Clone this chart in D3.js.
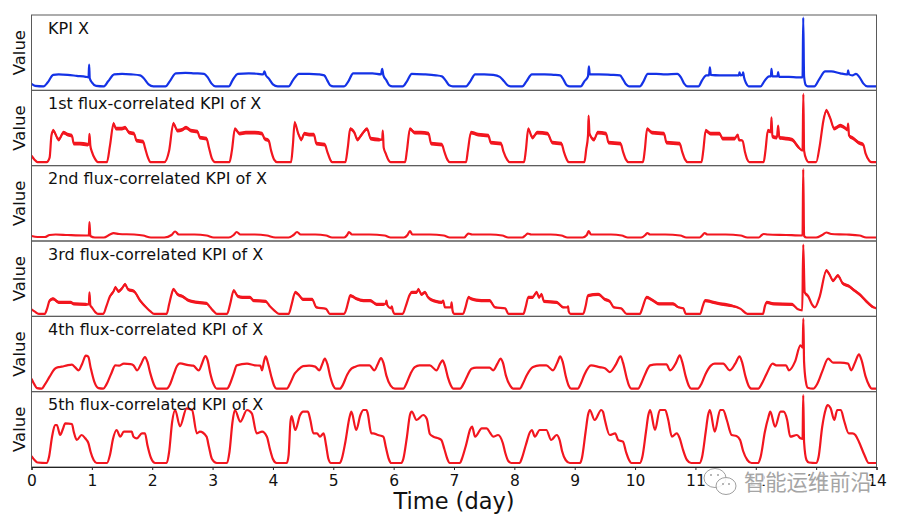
<!DOCTYPE html>
<html><head><meta charset="utf-8">
<script src="https://cdn.jsdelivr.net/npm/d3@7"></script>
<style>html,body{margin:0;padding:0;background:#fff;overflow:hidden}</style>
</head><body>
<svg id="chart" width="904" height="522"></svg>
<script>
// ---------- data ----------
const dayTicks = [0,1,2,3,4,5,6,7,8,9,10,11,12,13,14];
const panelTitles = ["KPI X","1st flux-correlated KPI of X","2nd flux-correlated KPI of X",
  "3rd flux-correlated KPI of X","4th flux-correlated KPI of X","5th flux-correlated KPI of X"];
const yLabel = "Value";
const xLabel = "Time (day)";
const watermarkText = "智能运维前沿";

// [time(day), value]
const kpiX = [
[0,6.5],[0.06,4.5],[0.2,4],[0.27,8],[0.36,15.5],[0.45,16],[0.6,15.5],[0.75,14.5],[0.9,13.5],[0.945,13],[0.955,25.7],[0.965,12],[1.0,8],[1.07,4.5],[1.2,4],[1.27,9],[1.37,16],[1.5,16.5],[1.65,16],[1.8,15],[1.86,12],[1.94,6],[2.02,4],
[2.22,4],[2.29,9],[2.39,17],[2.55,17.5],[2.7,17],[2.86,16.5],[2.92,13],[2.98,7],[3.05,4],
[3.27,4],[3.33,10],[3.42,16.5],[3.6,17],[3.75,16.5],[3.84,16],[3.86,19],[3.88,15.5],[3.93,12],[4.0,6],[4.08,4],
[4.26,4],[4.33,10],[4.43,16.5],[4.6,16.5],[4.75,16],[4.85,15],[4.9,10],[4.95,5],[5.0,4],
[5.18,4],[5.25,9],[5.33,17],[5.5,17],[5.65,17],[5.79,16],[5.81,21.5],[5.83,15],[5.88,10],[5.93,5],[5.98,4],
[6.15,4],[6.22,9],[6.3,16.5],[6.5,16],[6.7,15],[6.8,14],[6.86,10],[6.92,5],[6.98,4],
[7.2,4],[7.27,9],[7.35,16],[7.5,16],[7.65,15.5],[7.76,13.5],[7.83,9],[7.89,5],[7.94,4],
[8.13,4],[8.2,9],[8.29,16],[8.5,16],[8.65,15.5],[8.76,15],[8.82,10],[8.87,5],[8.92,4],
[9.1,4],[9.16,9],[9.22,14],[9.235,24],[9.25,16],[9.4,16],[9.6,15.5],[9.75,15],[9.8,11],[9.85,6],[9.9,4],
[10.08,4],[10.14,9],[10.21,16.5],[10.35,16.5],[10.5,16],[10.7,16.5],[10.76,13],[10.81,7],[10.87,4],
[11.05,4],[11.11,10],[11.18,15],[11.225,15],[11.24,23],[11.255,15.5],[11.4,15],[11.6,15],[11.72,15],[11.73,18],[11.745,15],[11.78,15.5],[11.79,18],[11.805,13],[11.84,7],[11.88,4],
[12.08,4],[12.14,9],[12.22,14],[12.25,14],[12.26,21.5],[12.275,14],[12.36,14],[12.37,18.3],[12.385,13.5],[12.55,13.5],[12.7,13],[12.775,13],[12.786,72.7],[12.8,14],[12.83,5],[12.86,4],
[12.97,4],[13.05,11],[13.15,19],[13.25,19],[13.4,17],[13.5,16],[13.52,16],[13.53,20],[13.545,16],[13.6,15],[13.66,16.5],[13.72,13],[13.78,7],[13.85,4],[14,4]
];

// [time, value, spread]
const flux1 = [
[0,10],[0.05,6],[0.1,3.5],[0.25,3.5],[0.3,8],[0.33,30,1.8],[0.36,35,1.8],[0.45,26,1.8],[0.53,33,1.8],[0.6,31,1.8],[0.67,30,1.8],[0.7,22,1.8],[0.8,22,1.8],[0.93,21,1.8],[0.95,21],[0.96,31.7],[0.975,20],[1.0,14],[1.05,7],[1.1,3.5],[1.25,3.5],
[1.3,20,1],[1.36,42,1.8],[1.4,37,1.8],[1.5,37,1.8],[1.55,38,1.8],[1.62,33,1.8],[1.7,32,1.8],[1.74,25,1.8],[1.85,24,1.8],[1.88,18],[1.93,8],[1.97,3.5],[2.2,3.5],
[2.28,15],[2.35,42,1.8],[2.42,35,1.8],[2.5,36,1.8],[2.56,38,1.8],[2.64,35,1.8],[2.75,34,1.8],[2.79,28,1.8],[2.9,27,1.8],[2.94,18],[2.99,7],[3.04,3.5],[3.28,3.5],
[3.32,15],[3.37,36.7,1.8],[3.45,32,1.8],[3.55,33,1.8],[3.7,33,1.8],[3.82,32,1.8],[3.86,27,1.8],[3.93,25,1.8],[3.97,15],[4.02,6],[4.07,3.5],[4.3,3.5],
[4.33,20],[4.36,43,1.8],[4.42,32,1.8],[4.47,26,1.8],[4.52,32,1.8],[4.6,31,1.8],[4.68,31,1.8],[4.72,22,1.8],[4.86,21,1.8],[4.9,14],[4.95,6],[4.98,3.5],[5.2,3.5],
[5.24,18],[5.28,36.7,1.8],[5.35,33,1.8],[5.4,26,1.8],[5.47,31,1.8],[5.56,36.7,1.8],[5.62,27,1.8],[5.75,26,1.8],[5.81,26],[5.82,35],[5.835,18],[5.87,12],[5.92,5],[5.95,3.5],[6.19,3.5],
[6.22,15],[6.27,36.7,1.8],[6.35,33,1.8],[6.45,33,1.8],[6.58,32,1.8],[6.62,22,1.8],[6.8,21,1.8],[6.84,14],[6.89,6],[6.93,3.5],[7.2,3.5],
[7.23,15],[7.28,33,1.8],[7.4,31,1.8],[7.57,30,1.8],[7.61,23,1.8],[7.78,22,1.8],[7.82,14],[7.88,6],[7.92,3.5],[8.16,3.5],
[8.19,15],[8.23,36.7,1.8],[8.3,28,1.8],[8.38,33,1.8],[8.55,32,1.8],[8.63,23,1.8],[8.78,22,1.8],[8.82,14],[8.87,6],[8.9,3.5],[9.16,3.5],
[9.19,16],[9.22,30,1.8],[9.23,50],[9.245,32,1.8],[9.32,26,1.8],[9.38,33,1.8],[9.52,32,1.8],[9.56,23,1.8],[9.76,22,1.8],[9.8,14],[9.85,6],[9.89,3.5],[10.13,3.5],
[10.16,15],[10.2,36.7,1.8],[10.28,33,1.8],[10.48,32,1.8],[10.52,23,1.8],[10.74,22,1.8],[10.78,14],[10.83,6],[10.87,3.5],[11.1,3.5],
[11.13,15],[11.17,35,1.8],[11.25,32,1.8],[11.4,32,1.8],[11.45,27,1.8],[11.65,27,1.8],[11.7,31],[11.72,26,1.8],[11.78,25],[11.82,14],[11.86,6],[11.89,3.5],[12.13,3.5],
[12.16,15],[12.2,35,1.8],[12.25,34,1.8],[12.26,48.3],[12.275,29,1.8],[12.35,28,1.8],[12.37,40],[12.39,28,1.8],[12.5,27,1.8],[12.6,26,1.8],[12.7,19,1.8],[12.775,15],[12.788,71.7],[12.8,15],[12.84,6],[12.87,3.5],[13.0,3.5],
[13.06,20],[13.12,45,1.8],[13.17,55,1.8],[13.23,48,1.8],[13.3,37,1.8],[13.4,40,1.8],[13.47,38,1.8],[13.52,36,1.8],[13.53,42],[13.545,30,1.8],[13.62,27,1.8],[13.7,23,1.8],[13.78,21,1.8],[13.82,12],[13.88,5],[13.92,3.5],[14,3.5]
];

const flux2 = [
[0,5],[0.1,4],[0.22,4],[0.3,6],[0.4,6.5],[0.6,6],[0.9,5.5],[0.95,5.5],[0.96,18.8],[0.975,5],[1.05,3.5],[1.2,3.5],
[1.3,6.5],[1.36,7.8],[1.45,7],[1.7,6.5],[1.85,5.5],[1.98,3.5],[2.2,3.5],
[2.32,6],[2.38,9.5],[2.44,6.5],[2.7,6.5],[2.9,5.5],[3.02,3.5],[3.27,3.5],
[3.35,6],[3.4,9],[3.46,6.5],[3.7,6.5],[3.9,5.5],[4.04,3.5],[4.26,3.5],
[4.34,6],[4.4,9],[4.46,6.5],[4.7,6.5],[4.88,5.5],[4.98,3.5],[5.18,3.5],
[5.23,6],[5.26,9],[5.31,6.5],[5.6,6.5],[5.85,5.5],[5.95,3.5],[6.17,3.5],
[6.23,6],[6.27,10],[6.31,6.5],[6.6,6.5],[6.83,5.5],[6.93,3.5],[7.17,3.5],
[7.21,6],[7.24,7.5],[7.3,6.5],[7.6,6.5],[7.8,5.5],[7.9,3.5],[8.13,3.5],
[8.19,6],[8.22,7.5],[8.28,6.5],[8.6,6.5],[8.78,5.5],[8.88,3.5],[9.13,3.5],
[9.2,6],[9.23,10],[9.27,6.5],[9.6,6.5],[9.78,5.5],[9.88,3.5],[10.1,3.5],
[10.17,6],[10.2,8],[10.25,6.5],[10.5,6.5],[10.75,5.5],[10.85,3.5],[11.07,3.5],
[11.12,6],[11.15,8],[11.2,6.5],[11.5,6.5],[11.75,5.5],[11.86,3.5],[12.05,3.5],
[12.1,6],[12.13,7],[12.2,6.5],[12.5,6],[12.775,5.5],[12.786,72],[12.8,5],[12.84,3.5],[13.0,3.5],
[13.1,6],[13.17,8.5],[13.25,7],[13.5,6.5],[13.72,5.5],[13.83,3.5],[14,3.5]
];

const flux3 = [
[0,7],[0.05,5],[0.12,2.5],[0.22,2.5],[0.26,8],[0.3,15.7,1.6],[0.36,17.4,1.6],[0.45,14,1.6],[0.65,14,1.6],[0.7,12.4,1.6],[0.9,12,1.6],[0.95,12],[0.96,24],[0.975,11],[1.0,9],[1.06,4],[1.1,2.5],[1.19,2.5],
[1.24,10],[1.3,20,1.6],[1.36,25,1.6],[1.39,29,1.6],[1.44,25,1.6],[1.5,28,1.6],[1.55,32,1.6],[1.6,27,1.6],[1.7,25,1.6],[1.8,15.7,1.6],[1.9,9,1],[1.97,5],[2.03,2.5],[2.24,2.5],
[2.28,12],[2.32,22,1.6],[2.35,27,1.6],[2.42,22,1.6],[2.5,20,1.6],[2.6,16,1.6],[2.75,14,1.6],[2.9,13,1.6],[2.96,9],[3.02,5],[3.07,2.5],[3.24,2.5],
[3.29,12],[3.35,25.7,1.6],[3.42,20,1.6],[3.5,19,1.6],[3.62,19,1.6],[3.68,15.7,1.6],[3.88,15,1.6],[3.95,10],[4.02,6],[4.1,2.5],[4.26,2.5],
[4.31,12],[4.37,24,1.6],[4.42,22,1.6],[4.5,17,1.6],[4.65,17,1.6],[4.72,9,1],[4.88,7.5],[4.94,2.5],[5.18,2.5],
[5.22,8],[5.25,15],[5.28,20.7,1.6],[5.39,17.4,1.6],[5.5,15.7,1.6],[5.61,15.7,1.6],[5.72,12,1.6],[5.83,12,1.6],[5.87,13],[5.88,15.7],[5.895,11],[5.95,8],[5.97,10],[5.985,6],[6.02,2.5],[6.15,2.5],
[6.2,10],[6.27,22,1.6],[6.3,24,1.6],[6.38,24,1.6],[6.41,27,1.6],[6.46,22,1.6],[6.52,24,1.6],[6.57,19,1.6],[6.7,15,1.6],[6.8,14,1.6],[6.82,15.7],[6.85,9],[6.95,9],[6.96,14],[6.975,6],[7.0,2.5],[7.15,2.5],
[7.19,9],[7.24,19,1.6],[7.29,17.4,1.6],[7.45,15.7,1.6],[7.59,15.7,1.6],[7.68,9,1],[7.85,8],[7.9,2.5],[8.15,2.5],
[8.19,10],[8.23,19,1.6],[8.3,19,1.6],[8.37,24,1.6],[8.41,19,1.6],[8.45,22,1.6],[8.49,15,1.6],[8.7,14,1.6],[8.81,9,1],[8.88,9],[8.89,10],[8.9,5],[8.93,2.5],[9.14,2.5],
[9.18,10],[9.22,20.7,1.6],[9.39,22,1.6],[9.5,17,1.6],[9.58,15,1.6],[9.65,9,1],[9.77,8],[9.86,2.5],[10.08,2.5],
[10.13,10],[10.19,19,1.6],[10.3,15.7,1.6],[10.4,12.4,1.6],[10.63,12.4,1.6],[10.72,9,1],[10.8,8],[10.84,2.5],[11.08,2.5],
[11.12,10],[11.16,15.7,1.6],[11.3,14,1.6],[11.41,12.4,1.6],[11.57,11,1.6],[11.75,7.5],[11.86,2.5],[12.12,2.5],
[12.15,10],[12.18,14,1.6],[12.3,12.4,1.6],[12.6,12,1.6],[12.7,7],[12.77,6],[12.786,71.7],[12.81,24,1.6],[12.87,20,1.6],[12.93,12],[12.98,9],[13.06,20,1.6],[13.17,45.7,1.6],[13.22,42,1.6],[13.28,35.7,1.6],[13.36,40.7,1.6],[13.44,33,1.6],[13.55,30,1.6],[13.61,27,1.6],[13.72,22,1.6],[13.85,14,1.6],[13.95,9,1],[14,8]
];

const flux4 = [
[0,13],[0.05,7],[0.09,3.5],[0.17,3],[0.22,7],[0.3,15],[0.39,23],[0.45,24.6],[0.5,25],[0.59,26.3],[0.67,27],[0.72,24.6],[0.78,21.3],[0.84,28],[0.9,36],[0.94,35],[0.98,24],[1.04,10],[1.11,3.5],[1.19,3],
[1.24,7],[1.32,18],[1.39,26.3],[1.45,26],[1.53,28],[1.64,27.5],[1.69,26.3],[1.75,21.3],[1.81,27],[1.88,34.6],[1.92,30],[1.97,18],[2.03,7],[2.08,3],[2.24,3],
[2.3,8],[2.36,18],[2.41,25.6],[2.46,28.3],[2.6,26.5],[2.68,26],[2.77,21.3],[2.83,29],[2.88,35.6],[2.92,31],[2.96,19],[3.02,7],[3.07,3],[3.24,3],
[3.29,8],[3.35,18],[3.4,26.3],[3.57,28],[3.7,26.3],[3.79,26],[3.82,21.3],[3.85,30],[3.88,35.3],[3.92,28],[3.97,16],[4.02,6],[4.06,3],[4.23,3],
[4.29,9],[4.36,18],[4.42,22],[4.5,25.5],[4.6,26],[4.7,25],[4.77,21.3],[4.82,28],[4.86,33],[4.9,28],[4.95,15],[5.0,6],[5.04,3],[5.11,3],
[5.16,7],[5.23,17],[5.3,23],[5.35,24.6],[5.44,26.3],[5.6,26.3],[5.68,21.3],[5.74,28],[5.79,33.6],[5.83,29],[5.88,16],[5.95,6],[6.02,3],[6.16,3],
[6.21,8],[6.28,18],[6.35,24.6],[6.43,26.3],[6.6,26.3],[6.71,21.3],[6.77,28],[6.81,31.3],[6.85,26],[6.9,14],[6.95,6],[6.99,3],[7.1,3],
[7.16,8],[7.23,17],[7.29,23],[7.37,24],[7.59,24],[7.65,21.3],[7.72,28],[7.77,33],[7.81,29],[7.86,16],[7.93,6],[7.98,3],[8.09,3],
[8.14,8],[8.21,17],[8.31,24.6],[8.42,26.3],[8.53,26.3],[8.64,21.3],[8.71,29],[8.76,35.3],[8.8,30],[8.85,16],[8.9,6],[8.94,3],[9.05,3],
[9.1,8],[9.16,17],[9.27,26.3],[9.41,24.6],[9.5,23.5],[9.58,19.6],[9.68,27],[9.76,35.3],[9.8,29],[9.86,14],[9.9,6],[9.94,3],[10.05,3],
[10.1,8],[10.17,18],[10.25,26.3],[10.36,27.3],[10.52,27.3],[10.58,21.3],[10.68,29],[10.74,36.3],[10.78,30],[10.84,15],[10.89,6],[10.93,3],[11.04,3],
[11.1,8],[11.17,18],[11.26,26.3],[11.32,28],[11.46,28],[11.57,21.3],[11.66,28],[11.73,35.3],[11.77,30],[11.83,15],[11.88,6],[11.93,3],[12.04,3],
[12.1,8],[12.18,18],[12.28,28],[12.34,26.3],[12.5,26.3],[12.55,21.3],[12.65,30],[12.74,46.3],[12.777,44],[12.788,73],[12.8,30],[12.83,10],[12.86,4],[12.95,3],
[13.02,8],[13.1,20],[13.2,33],[13.28,29],[13.4,29],[13.53,28],[13.58,21.3],[13.65,30],[13.71,37.3],[13.75,32],[13.82,15],[13.88,6],[13.92,3],[14,3]
];

const flux5 = [
[0,11],[0.05,7],[0.1,4.5],[0.25,4],[0.29,10],[0.34,30],[0.39,42],[0.42,42],[0.475,32],[0.52,38],[0.56,43.7],[0.67,43],[0.7,35.3],[0.75,27],[0.83,32],[0.89,28.7],[0.944,23.7],[0.98,15],[1.03,7],[1.08,4],[1.25,4],
[1.3,12],[1.35,28],[1.41,37],[1.47,30.3],[1.53,35.3],[1.66,35.3],[1.69,30.3],[1.745,28.7],[1.83,33.7],[1.88,33.7],[1.92,22],[1.98,9],[2.05,4],[2.24,4],
[2.28,15],[2.33,45],[2.38,57],[2.46,40.7],[2.57,58.7],[2.66,57],[2.74,33.7],[2.79,35.3],[2.9,30.3],[2.94,20],[2.99,8],[3.07,4],[3.24,4],
[3.28,15],[3.33,45],[3.37,57],[3.46,45.3],[3.57,57],[3.65,53.7],[3.73,33.7],[3.82,35.3],[3.9,30.3],[3.95,18],[4.0,8],[4.06,4],[4.23,4],
[4.26,12],[4.29,45],[4.31,51],[4.37,37],[4.45,52],[4.5,55.3],[4.58,55.3],[4.62,47],[4.67,33.7],[4.73,33.7],[4.78,30.3],[4.84,33.7],[4.88,22],[4.92,8],[4.96,4],[5.11,4],
[5.14,8],[5.2,25],[5.27,50],[5.3,55.3],[5.38,37],[5.45,52],[5.5,57],[5.55,57],[5.57,53.7],[5.63,33.7],[5.66,33.7],[5.74,32],[5.83,30.3],[5.87,20],[5.92,8],[5.96,4],[6.13,4],
[6.16,8],[6.22,30],[6.27,52],[6.3,55.3],[6.38,47],[6.49,52],[6.55,48],[6.6,33],[6.66,30.3],[6.74,28.7],[6.79,27],[6.84,18],[6.89,8],[6.93,4],[7.1,4],
[7.13,8],[7.2,22],[7.27,38],[7.3,40.3],[7.35,30.3],[7.46,38.7],[7.54,38.7],[7.6,34],[7.65,30.3],[7.73,32],[7.81,23.7],[7.85,14],[7.9,6],[7.95,4],[8.09,4],
[8.12,8],[8.19,22],[8.26,35],[8.29,37],[8.34,30.3],[8.42,37],[8.53,37],[8.61,27],[8.7,32],[8.75,27],[8.79,16],[8.85,7],[8.92,4],[9.09,4],
[9.12,9],[9.18,35],[9.22,52],[9.25,57],[9.33,47],[9.44,57],[9.47,55],[9.5,47],[9.58,32],[9.67,33.7],[9.72,27],[9.8,25.3],[9.85,15],[9.9,7],[9.94,4],[10.08,4],
[10.12,10],[10.18,35],[10.22,52],[10.25,57],[10.33,37],[10.41,57],[10.5,57],[10.55,47],[10.61,30.3],[10.69,33.7],[10.74,28.7],[10.79,18],[10.86,7],[10.93,4],[11.07,4],
[11.11,10],[11.17,35],[11.21,52],[11.24,57],[11.32,35.3],[11.41,57],[11.46,57],[11.52,47],[11.6,32],[11.68,31],[11.74,27],[11.79,16],[11.86,7],[11.93,4],[12.04,4],
[12.08,10],[12.15,35],[12.21,50],[12.24,55.3],[12.32,40.3],[12.41,55.3],[12.46,55.3],[12.52,47],[12.57,30.3],[12.68,32],[12.74,28.7],[12.775,28],[12.786,72],[12.8,25],[12.84,7],[12.88,4.5],[13.0,4],
[13.04,10],[13.1,40],[13.16,58],[13.19,62],[13.24,58.7],[13.3,47],[13.35,57],[13.41,57],[13.46,47],[13.54,33.7],[13.6,33.7],[13.65,32],[13.71,25],[13.8,12],[13.87,4],[14,4]
];

// ---------- drawing ----------
const seriesList = [kpiX, flux1, flux2, flux3, flux4, flux5];
const lineColor = ["#1432e6", "#f2161f", "#f2161f", "#f2161f", "#f2161f", "#f2161f"];
const svg = d3.select("#chart");
const L = 31.5, R = 876.5, T = 15, B = 467;
const ph = (B - T) / 6;
const x = d3.scaleLinear().domain([0, 14]).range([L, R]);

const defs = svg.append("defs");

seriesList.forEach((data, i) => {
  const top = T + i * ph;
  const y = d3.scaleLinear().domain([0, ph]).range([top + ph, top]);
  const g = svg.append("g");
  defs.append("clipPath").attr("id", "clip" + i)
    .append("rect").attr("x", L).attr("y", top + 0.5).attr("width", R - L).attr("height", ph - 1);
  const pg = g.append("g").attr("clip-path", `url(#clip${i})`);

  const hasSpread = data.some(d => d.length > 2);
  if (hasSpread) {
    const area = d3.area()
      .x(d => x(d[0]))
      .y0(d => y(d[1] - (d[2] || 0)))
      .y1(d => y(d[1] + (d[2] || 0)))
      .curve(d3.curveMonotoneX);
    pg.append("path").datum(data).attr("d", area).attr("fill", lineColor[i]);
  }
  const line = d3.line().x(d => x(d[0])).y(d => y(d[1])).curve(d3.curveMonotoneX);
  pg.append("path").datum(data).attr("d", line)
    .attr("fill", "none").attr("stroke", lineColor[i])
    .attr("stroke-width", 2.2).attr("stroke-linejoin", "round");

  // frame
  g.append("rect").attr("x", L).attr("y", top).attr("width", R - L).attr("height", ph)
    .attr("fill", "none").attr("stroke", "#5a5a5a").attr("stroke-width", 1);

  // panel title
  g.append("text").attr("x", 48).attr("y", top + 18.5)
    .attr("font-family", "DejaVu Sans").attr("font-size", 16).attr("fill", "#111")
    .text(panelTitles[i]);

  // y label
  g.append("text")
    .attr("transform", `translate(24.5,${top + ph / 2}) rotate(-90)`)
    .attr("text-anchor", "middle")
    .attr("font-family", "DejaVu Sans").attr("font-size", 16.5).attr("fill", "#111")
    .text(yLabel);
});

// x axis
const ax = svg.append("g").attr("transform", `translate(0,${B})`)
  .call(d3.axisBottom(x).tickValues(dayTicks).tickSize(3).tickPadding(5).tickFormat(d3.format("d")));
ax.select(".domain").attr("stroke", "#222").attr("stroke-width", 1.1);
ax.selectAll(".tick line").attr("stroke", "#222");
ax.selectAll(".tick text").attr("font-family", "DejaVu Sans").attr("font-size", 15.5).attr("fill", "#111");

svg.append("text").attr("x", (L + R) / 2).attr("y", 509)
  .attr("text-anchor", "middle").attr("font-family", "DejaVu Sans").attr("font-size", 22.5).attr("fill", "#111")
  .text(xLabel);

// watermark
const wm = svg.append("g");
wm.append("ellipse").attr("cx", 715).attr("cy", 478).attr("rx", 11).attr("ry", 9.5)
  .attr("fill", "rgba(255,255,255,0.8)").attr("stroke", "#a0a0a0").attr("stroke-width", 1);
wm.append("ellipse").attr("cx", 726).attr("cy", 486).attr("rx", 10).attr("ry", 8.5)
  .attr("fill", "rgba(255,255,255,0.85)").attr("stroke", "#a0a0a0").attr("stroke-width", 1);
[[711,475],[718,475],[723,484],[729,484]].forEach(p =>
  wm.append("circle").attr("cx", p[0]).attr("cy", p[1]).attr("r", 1).attr("fill", "#a0a0a0"));
wm.append("text").attr("x", 744).attr("y", 490)
  .attr("font-family", "Noto Sans CJK SC").attr("font-size", 21.3)
  .attr("fill", "#a5a5a5").attr("stroke", "rgba(255,255,255,0.85)").attr("stroke-width", 3)
  .attr("paint-order", "stroke")
  .text(watermarkText);
</script>
</body></html>
